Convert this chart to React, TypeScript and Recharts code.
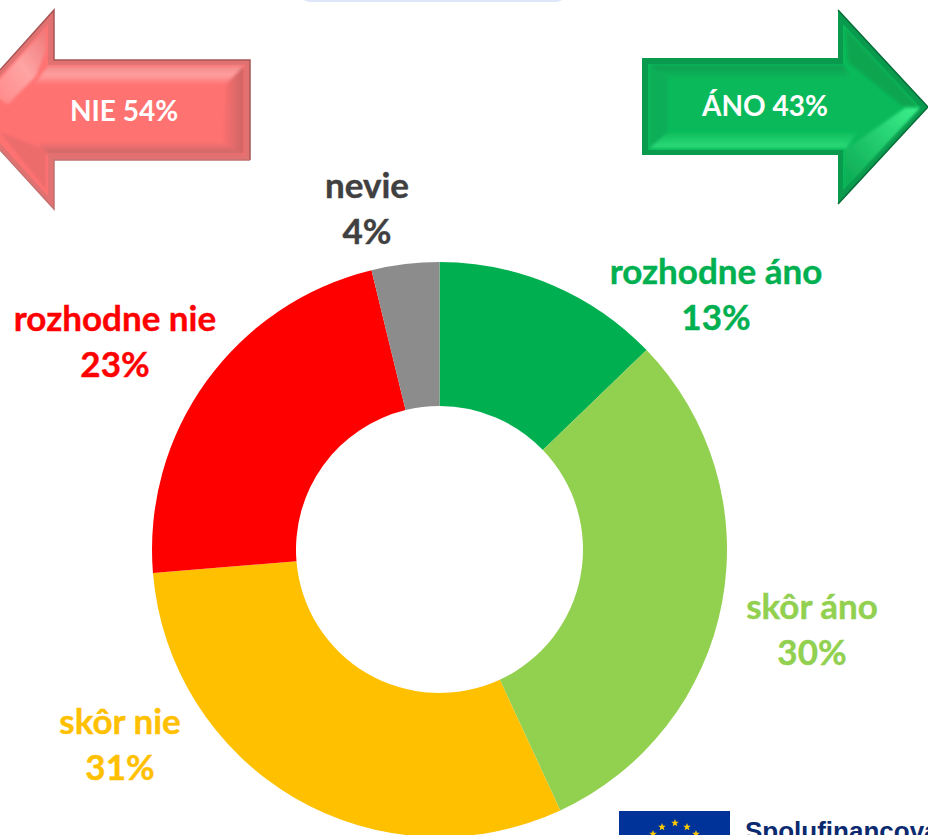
import React from 'react';
import { PieChart, Pie, Cell } from 'recharts';

const categories = ['rozhodne áno', 'skôr áno', 'skôr nie', 'rozhodne nie', 'nevie'];
const shares = [12.8, 30.3, 30.6, 22.5, 3.8];
const shownPercents = ['13%', '30%', '31%', '23%', '4%'];
const sliceColors = ['#00B050', '#92D050', '#FFC000', '#FF0000', '#8C8C8C'];
const labelColors = ['#00B050', '#92D050', '#FFC000', '#FF0000', '#404040'];

// hand placed data labels, as in the original slide
const labelAnchors = [
  { x: 716, y: 284 },
  { x: 812, y: 619 },
  { x: 120, y: 734 },
  { x: 115, y: 331 },
  { x: 367, y: 198 },
];

const chartData = categories.map((name, i) => ({ name, value: shares[i] }));

const FONT = 'Lato, sans-serif';

const pts = (list: number[][]) => list.map(p => p.join(',')).join(' ');

const star = (cx: number, cy: number, r: number) => {
  const out: number[][] = [];
  for (let i = 0; i < 10; i++) {
    const rad = i % 2 === 0 ? r : r * 0.42;
    const a = (Math.PI / 5) * i - Math.PI / 2;
    out.push([cx + rad * Math.cos(a), cy + rad * Math.sin(a)]);
  }
  return pts(out);
};

const renderLabel = (props: any) => {
  const { index } = props;
  const pos = labelAnchors[index];
  return (
    <text
      x={pos.x}
      textAnchor="middle"
      fontFamily={FONT}
      fontWeight={700}
      fontSize={35}
      fill={labelColors[index]}
      stroke={labelColors[index]}
      strokeWidth={0.4}
    >
      <tspan x={pos.x} y={pos.y}>{categories[index]}</tspan>
      <tspan x={pos.x} y={pos.y + 46}>{shownPercents[index]}</tspan>
    </text>
  );
};

const Arrows: React.FC = () => (
  <svg width={928} height={835} style={{ position: 'absolute', left: 0, top: 0 }}>
    <defs>
      <filter id="soft" x="-20%" y="-20%" width="140%" height="140%">
        <feGaussianBlur stdDeviation="1.6" />
      </filter>
      <linearGradient id="redTop" x1="0" y1="0" x2="0" y2="1">
        <stop offset="0" stopColor="#F28A8A" />
        <stop offset="0.5" stopColor="#FF9E9E" />
        <stop offset="1" stopColor="#FF7676" />
      </linearGradient>
      <linearGradient id="redBottom" x1="0" y1="0" x2="0" y2="1">
        <stop offset="0" stopColor="#FF7070" />
        <stop offset="1" stopColor="#C96868" />
      </linearGradient>
      <linearGradient id="redRight" x1="0" y1="0" x2="1" y2="0">
        <stop offset="0" stopColor="#FF7070" />
        <stop offset="1" stopColor="#CC6464" />
      </linearGradient>
      <linearGradient id="redHead" x1="0" y1="1" x2="1" y2="0">
        <stop offset="0" stopColor="#FF8484" />
        <stop offset="0.55" stopColor="#FFA4A4" />
        <stop offset="1" stopColor="#EE7676" />
      </linearGradient>
      <linearGradient id="greenTop" x1="0" y1="0" x2="0" y2="1">
        <stop offset="0" stopColor="#0E9E50" />
        <stop offset="1" stopColor="#0BB85A" />
      </linearGradient>
      <linearGradient id="greenBottom" x1="0" y1="0" x2="0" y2="1">
        <stop offset="0" stopColor="#0CBC5C" />
        <stop offset="1" stopColor="#2EDB7A" />
      </linearGradient>
      <linearGradient id="greenHead" x1="0" y1="1" x2="1" y2="0">
        <stop offset="0" stopColor="#0AA850" />
        <stop offset="1" stopColor="#3CF08C" />
      </linearGradient>
    </defs>

    {/* pill cut off by the top edge */}
    <rect x={297} y={-30} width={272} height={32} rx={14} fill="#DCE6F8" />

    {/* NIE arrow */}
    <polygon points={pts([[-36, 110], [54, 10], [54, 60], [250, 60], [250, 160], [54, 160], [54, 209]])} fill="#E27272" />
    <polyline points={pts([[0, 70], [54, 10], [54, 60], [250, 60], [250, 160]])} fill="none" stroke="#A85454" strokeWidth={1.5} />
    <polyline points={pts([[0, 150], [54, 209], [54, 160], [250, 160]])} fill="none" stroke="#C47070" strokeWidth={1.5} />
    <polygon points={pts([[-30, 110], [48, 24], [48, 65], [245, 65], [245, 155], [48, 155], [48, 196]])} fill="#FF7272" />
    <g filter="url(#soft)">
      <polygon points={pts([[48, 66], [244, 66], [226, 84], [34, 84]])} fill="url(#redTop)" />
      <polygon points={pts([[244, 66], [244, 154], [222, 142], [226, 84]])} fill="url(#redRight)" />
      <polygon points={pts([[48, 154], [244, 154], [222, 142], [36, 142]])} fill="url(#redBottom)" />
      <polygon points={pts([[-12, 92], [46, 28], [46, 50], [36, 76], [8, 104]])} fill="url(#redHead)" />
      <polygon points={pts([[0, 132], [46, 150], [46, 190]])} fill="#EC6C6C" />
    </g>
    <text x={124} y={121} textAnchor="middle" fontFamily={FONT} fontWeight={700} fontSize={28} fill="#FFFFFF">NIE 54%</text>

    {/* ANO arrow */}
    <polygon points={pts([[928, 107], [838, 10], [838, 58], [642, 58], [642, 155], [838, 155], [838, 204]])} fill="#0A9A4E" />
    <polyline points={pts([[838, 204], [928, 107], [838, 10]])} fill="none" stroke="#066C38" strokeWidth={1.5} />
    <polygon points={pts([[920, 107], [843, 24], [843, 64], [648, 64], [648, 150], [843, 150], [843, 190]])} fill="#0ABA5A" />
    <g filter="url(#soft)">
      <polygon points={pts([[650, 65], [843, 65], [852, 79], [668, 79]])} fill="url(#greenTop)" />
      <polygon points={pts([[650, 65], [668, 79], [668, 132], [650, 148]])} fill="#0FAE58" />
      <polygon points={pts([[650, 148], [668, 132], [858, 132], [846, 148]])} fill="url(#greenBottom)" />
      <polygon points={pts([[845, 150], [905, 108], [920, 108], [845, 188]])} fill="url(#greenHead)" />
      <polygon points={pts([[845, 28], [918, 106], [902, 106], [848, 62]])} fill="#0AA650" />
    </g>
    <text x={765} y={116} textAnchor="middle" fontFamily={FONT} fontWeight={700} fontSize={28} fill="#FFFFFF">ÁNO 43%</text>

    {/* EU flag and caption, cropped by the bottom edge */}
    <rect x={619} y={811} width={111} height={30} fill="#003399" />
    <polygon points={star(675, 823, 4)} fill="#FFCC00" />
    <polygon points={star(662, 827, 4)} fill="#FFCC00" />
    <polygon points={star(687, 827, 4)} fill="#FFCC00" />
    <polygon points={star(653, 834, 4)} fill="#FFCC00" />
    <polygon points={star(696, 834, 4)} fill="#FFCC00" />
    <text x={745} y={840} fontFamily="Liberation Sans, Arial, sans-serif" fontWeight={700} fontSize={26} fill="#0B2A6F">Spolufinancovaný</text>
  </svg>
);

export default function App() {
  return (
    <div style={{ position: 'absolute', left: 0, top: 0, width: 928, height: 835, overflow: 'hidden', background: '#FFFFFF' }}>
      <Arrows />
      <div style={{ position: 'absolute', left: 0, top: 0 }}>
        <PieChart width={928} height={835} margin={{ top: 0, right: 0, bottom: 0, left: 0 }}>
          <Pie
            data={chartData}
            dataKey="value"
            nameKey="name"
            cx={439.5}
            cy={549.5}
            outerRadius={287.5}
            innerRadius={143.5}
            startAngle={90}
            endAngle={-270}
            stroke="none"
            label={renderLabel}
            labelLine={false}
            isAnimationActive={false}
          >
            {chartData.map((d, i) => (
              <Cell key={d.name} fill={sliceColors[i]} />
            ))}
          </Pie>
        </PieChart>
      </div>
    </div>
  );
}
